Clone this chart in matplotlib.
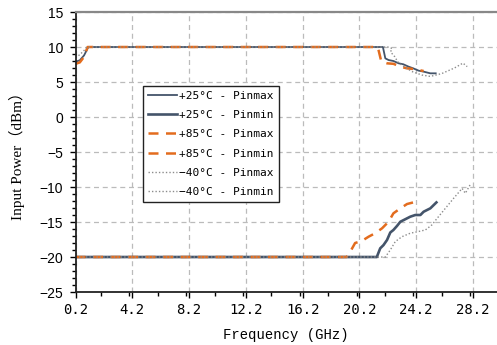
import matplotlib
matplotlib.use("Agg")
import matplotlib.pyplot as plt
from matplotlib.ticker import MultipleLocator

# ---- data (GHz, dBm) ----
x25_max = [0.2, 0.5, 0.8, 1.1, 21.86, 22.03, 22.26, 22.6, 22.97, 23.3, 23.67, 24.0, 24.38, 24.73, 25.2, 25.58]
y25_max = [7.9, 8.1, 8.8, 10.0, 10.0, 8.38, 8.14, 8.0, 7.67, 7.53, 7.19, 6.95, 6.62, 6.48, 6.24, 6.24]

x25_min = [0.2, 21.43, 21.67, 21.9, 22.15, 22.38, 22.6, 22.85, 23.09, 23.44, 23.79, 24.14, 24.5, 24.73, 25.2, 25.63]
y25_min = [-20.0, -20.0, -18.76, -18.3, -17.57, -16.5, -16.14, -15.57, -14.96, -14.6, -14.24, -14.0, -14.0, -13.53, -13.05, -12.2]

x85_max = [0.2, 0.5, 0.8, 1.05, 21.5, 21.75, 22.15, 22.6, 23.1, 23.56, 24.0, 24.73]
y85_max = [7.6, 7.8, 8.6, 10.0, 10.0, 7.9, 7.67, 7.6, 7.19, 6.95, 6.86, 6.57]

x85_min = [0.2, 19.3, 19.56, 19.9, 20.38, 20.85, 21.32, 21.8, 22.26, 22.6, 23.09, 23.56, 24.0, 24.45]
y85_min = [-20.0, -20.0, -19.24, -18.0, -17.7, -17.1, -16.6, -15.9, -14.96, -13.76, -13.05, -12.43, -12.2, -12.2]

xm40_max = [0.2, 0.5, 0.8, 1.0, 22.2, 22.5, 22.4, 22.7, 22.9, 23.2, 23.9, 24.6, 25.2, 26.0, 26.9, 27.5, 27.8]
ym40_max = [8.5, 8.9, 9.5, 10.0, 10.0, 9.8, 9.3, 8.6, 7.9, 7.4, 6.5, 6.0, 5.8, 6.2, 7.0, 7.7, 7.2]

xm40_min = [0.2, 22.03, 22.38, 22.73, 23.2, 23.79, 24.27, 24.85, 25.32, 25.67, 26.26, 26.85, 27.44, 27.67, 28.0]
ym40_min = [-20.0, -20.0, -19.0, -17.8, -17.1, -16.6, -16.4, -16.14, -15.4, -14.5, -13.05, -11.6, -10.2, -10.9, -9.7]

labels = ["+25°C - Pinmax", "+25°C - Pinmin", "+85°C - Pinmax",
          "+85°C - Pinmin", "\u221240°C - Pinmax", "\u221240°C - Pinmin"]
xticks = [0.2, 4.2, 8.2, 12.2, 16.2, 20.2, 24.2, 28.2]
xtick_labels = ["0.2", "4.2", "8.2", "12.2", "16.2", "20.2", "24.2", "28.2"]
yticks = [-25, -20, -15, -10, -5, 0, 5, 10, 15]

blue = "#44546A"
orange = "#E36C1E"
gray = "#8C8C8C"

fig = plt.figure(figsize=(4.97, 3.45), dpi=100)
ax = fig.add_axes([0.152, 0.1536, 0.848, 0.8116])

ax.plot(x25_max, y25_max, color=blue, lw=1.3, label=labels[0])
ax.plot(x25_min, y25_min, color=blue, lw=1.9, label=labels[1])
ax.plot(x85_max, y85_max, color=orange, lw=1.8, dashes=(4, 3), label=labels[2])
ax.plot(x85_min, y85_min, color=orange, lw=1.8, dashes=(4, 3), label=labels[3])
ax.plot(xm40_max, ym40_max, color=gray, lw=1.0, ls=(0, (1, 1.5)), label=labels[4])
ax.plot(xm40_min, ym40_min, color=gray, lw=1.0, ls=(0, (1, 1.5)), label=labels[5])

ax.set_xlim(0.2, 29.9)
ax.set_ylim(-25, 15)
ax.set_xticks(xticks)
ax.set_xticklabels(xtick_labels, family="DejaVu Sans Mono", fontsize=10)
ax.set_yticks(yticks)
ax.set_yticklabels([str(v).replace("-", "\u2212") for v in yticks], family="Liberation Sans", fontsize=10)
ax.xaxis.set_minor_locator(MultipleLocator(2))
ax.yaxis.set_minor_locator(MultipleLocator(1))
ax.tick_params(axis="both", which="major", direction="out", length=4, width=1, pad=4)
ax.tick_params(axis="y", which="major", pad=5)
ax.tick_params(axis="both", which="minor", direction="out", length=3, width=1)

ax.grid(True, which="major", color="#BBBBBB", lw=0.9, ls=(0, (4, 3)))
ax.set_axisbelow(True)

for s in ["left", "bottom"]:
    ax.spines[s].set_color("#222222")
    ax.spines[s].set_linewidth(1.3)
ax.spines["top"].set_color("#888888")
ax.spines["top"].set_linewidth(1.6)
ax.spines["right"].set_visible(False)

ax.set_xlabel("Frequency (GHz)", family="Liberation Mono", fontsize=10, labelpad=8)
ax.set_ylabel("Input Power（dBm）", family=["Liberation Serif", "Noto Sans CJK SC"], fontsize=11, labelpad=10)

leg = ax.legend(loc="upper left", bbox_to_anchor=(0.16, 0.736), borderaxespad=0,
                prop={"family": "DejaVu Sans Mono", "size": 8}, frameon=True, fancybox=False,
                edgecolor="#222222", framealpha=1, handlelength=2.6, handletextpad=0.2,
                labelspacing=0.83, borderpad=0.45)
leg.get_frame().set_linewidth(1.0)

fig.savefig("out.png", dpi=100)
